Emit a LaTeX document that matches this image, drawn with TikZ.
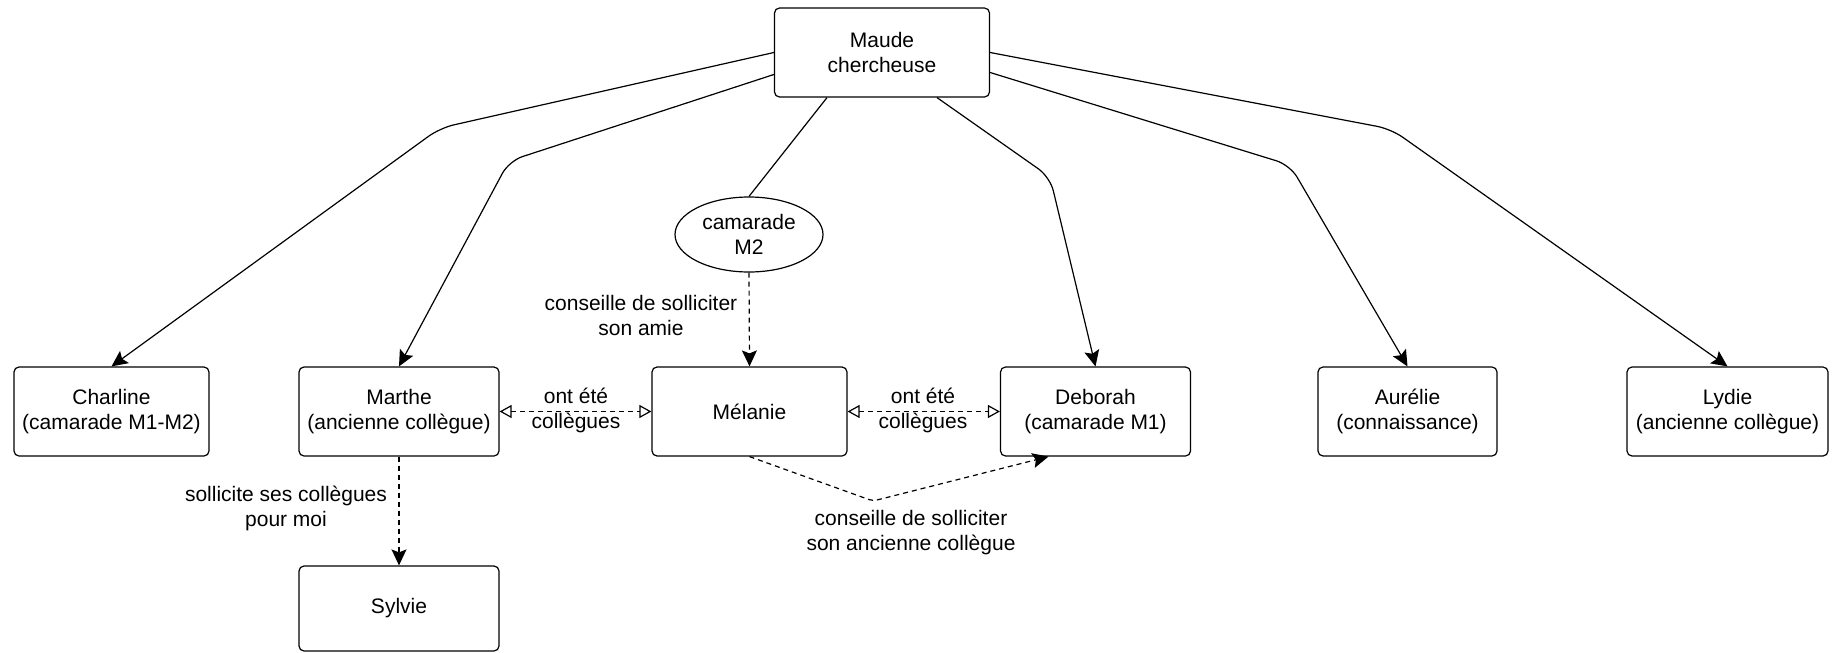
\documentclass[tikz,border=0pt]{standalone}
\usepackage{fontspec}
\setmainfont{Liberation Sans}
\usepackage{tikz}
\usetikzlibrary{arrows.meta,shapes.geometric}

\tikzset{
  box/.style={draw, rounded corners=5pt, line width=1.2pt, align=center,
    minimum width=195pt, minimum height=89pt, inner sep=2pt},
  bubble/.style={draw, ellipse, line width=1.2pt, align=center,
    minimum width=148pt, minimum height=75pt, inner sep=0pt},
  link/.style={line width=1.2pt, rounded corners=14pt,
    -{Stealth[length=16pt,width=15pt,inset=3pt]}},
  hint/.style={line width=1.2pt, dash pattern=on 5pt off 4pt,
    -{Stealth[length=16pt,width=15pt,inset=3pt]}},
  peer/.style={line width=1.2pt, dash pattern=on 5pt off 4pt,
    {Triangle[open,length=12pt,width=13pt]}-{Triangle[open,length=12pt,width=13pt]}},
  lbl/.style={align=center, inner sep=0pt}
}

\begin{document}
\begin{tikzpicture}[x=1pt,y=-1pt,font=\fontsize{21}{25}\selectfont]
\useasboundingbox (0,0) rectangle (1836,653);
% people
\node[box, minimum width=215pt] (maude) at (882,52.5) {Maude\\chercheuse};
\node[bubble] (m2) at (749,234.5) {camarade\\M2};
\node[box] (charline) at (111.5,411.5) {Charline\\(camarade M1-M2)};
\node[box, minimum width=200pt] (marthe) at (399,411.5) {Marthe\\(ancienne collègue)};
\node[box] (melanie) at (749.5,411.5) {Mélanie};
\node[box, minimum width=190pt] (deborah) at (1095.5,411.5) {Deborah\\(camarade M1)};
\node[box, minimum width=179pt] (aurelie) at (1407.5,411.5) {Aurélie\\(connaissance)};
\node[box, minimum width=201pt] (lydie) at (1727.5,411.5) {Lydie\\(ancienne collègue)};
\node[box, minimum width=200pt, minimum height=85pt] (sylvie) at (399,608.5) {Sylvie};
% direct contacts
\draw[link] (maude.west) -- (440,128) -- (charline.north);
\draw[link] ([yshift=-22pt]maude.west) -- (509,161) -- (marthe.north);
\draw[line width=1.2pt] ([xshift=-55pt]maude.south) -- (m2.north);
\draw[link] ([xshift=55pt]maude.south) -- (1050,177) -- (deborah.north);
\draw[link] ([yshift=-20pt]maude.east) -- (1290,165) -- (aurelie.north);
\draw[link] (maude.east) -- (1391,129) -- (lydie.north);
% indirect contacts
\draw[hint] (m2.south) -- (melanie.north);
\node[lbl] (amie) at (641,315.5) {conseille de solliciter\\son amie};
\draw[peer] (marthe.east) -- (melanie.west);
\node[lbl] (coll1) at (576,410.5) {ont été\\collègues};
\draw[peer] (melanie.east) -- (deborah.west);
\node[lbl] (coll2) at (923,410.5) {ont été\\collègues};
\draw[hint] (marthe.south) -- (sylvie.north);
\node[lbl] (pourmoi) at (286,508.5) {sollicite ses collègues\\pour moi};
\draw[hint, rounded corners=4pt] (melanie.south) -- (873,501) -- ([xshift=-47pt]deborah.south);
\node[lbl] (ancienne) at (911,532.5) {conseille de solliciter\\son ancienne collègue};
\end{tikzpicture}
\end{document}
